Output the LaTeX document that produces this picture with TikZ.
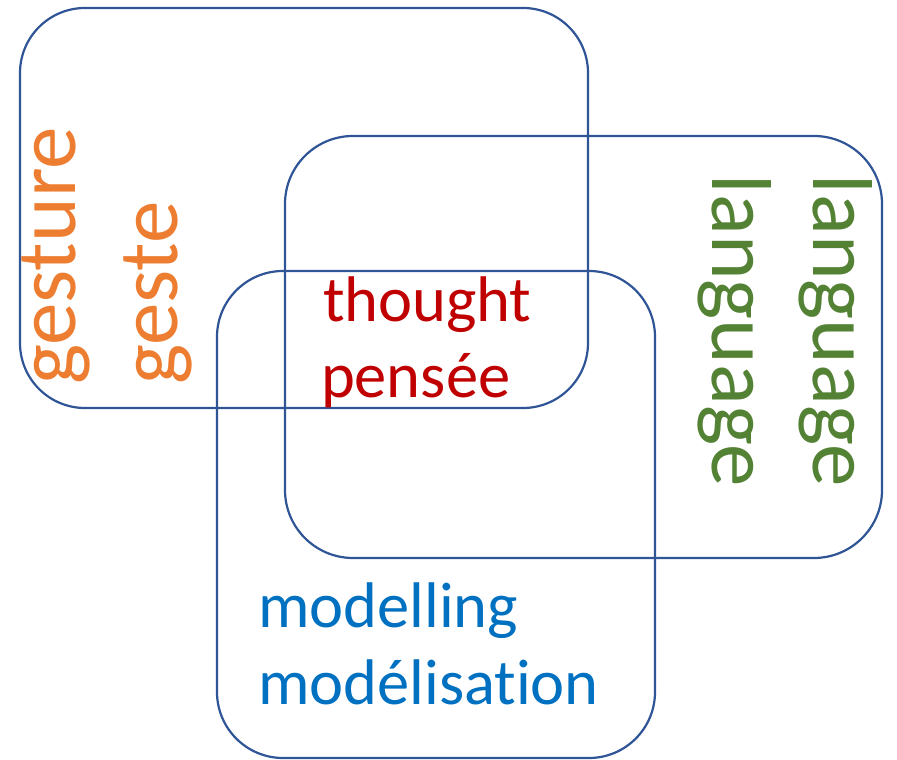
\documentclass[tikz,border=0pt]{standalone}
\usepackage{fontspec}
\setmainfont[RawFeature=-liga]{Carlito}
\definecolor{boxblue}{HTML}{2F5597}
\definecolor{gorange}{HTML}{ED7D31}
\definecolor{lgreen}{HTML}{548235}
\definecolor{tred}{HTML}{C00000}
\definecolor{mblue}{HTML}{0070C0}
\tikzset{
  zone/.style={draw=boxblue, line width=2.2pt},
  bigtxt/.style={font=\fontsize{85}{100}\selectfont, inner sep=0pt, outer sep=0pt},
  midtxt/.style={font=\fontsize{64.5}{76}\selectfont, inner sep=0pt, outer sep=0pt, anchor=base west},
}
\begin{document}
\begin{tikzpicture}[x=1pt,y=1pt]
\useasboundingbox (0,0) rectangle (897,760);
% zones
\draw[zone, rounded corners=65pt] (20,352) rectangle (588,752);
\draw[zone, rounded corners=68pt] (285,202) rectangle (882,624);
\draw[zone, rounded corners=66pt] (217,2) rectangle (655,489);
% gesture
\node[bigtxt, text=gorange, rotate=90, anchor=base west] (gesture) at (75,375) {gesture};
\node[bigtxt, text=gorange, rotate=90, anchor=base west] (geste) at (177,375) {geste};
% language
\node[bigtxt, text=lgreen, rotate=-90, anchor=base west] (lang1) at (813,585) {language};
\node[bigtxt, text=lgreen, rotate=-90, anchor=base west] (lang2) at (712,585) {language};
% thought
\node[midtxt, text=tred] (thought) at (323,438) {thought};
\node[midtxt, text=tred] (pensee) at (321,362) {pensée};
% modelling
\node[midtxt, text=mblue] (modelling) at (258,132) {modelling};
\node[midtxt, text=mblue] (modelisation) at (258,55) {modélisation};
\end{tikzpicture}
\end{document}
